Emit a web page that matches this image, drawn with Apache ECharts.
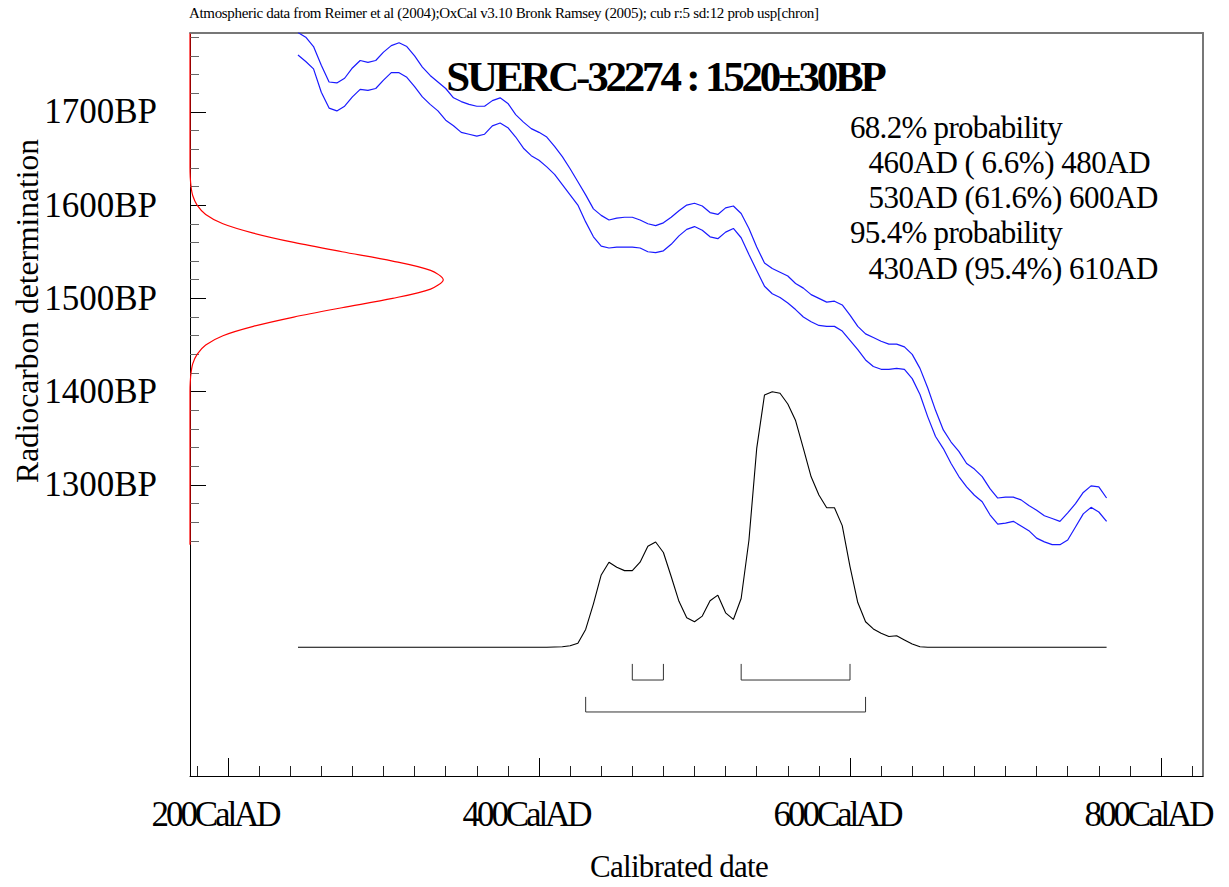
<!DOCTYPE html>
<html><head><meta charset="utf-8">
<script src="https://cdn.jsdelivr.net/npm/echarts@6/dist/echarts.min.js"></script>
<style>
html,body{margin:0;padding:0;background:#fff}
#c{width:1229px;height:887px}
#c text{white-space:pre}
</style></head><body><div id="c"></div>
<script>
// ---- data ----
const curveYears = [245,250,255,260,265,270,275,280,285,290,295,300,305,310,315,320,325,330,335,340,345,350,355,360,365,370,375,380,385,390,395,400,405,410,415,420,425,430,435,440,445,450,455,460,465,470,475,480,485,490,495,500,505,510,515,520,525,530,535,540,545,550,555,560,565,570,575,580,585,590,595,600,605,610,615,620,625,630,635,640,645,650,655,660,665,670,675,680,685,690,695,700,705,710,715,720,725,730,735,740,745,750,755,760,765];
const curveUpperBP = [1785,1780,1770,1750,1732,1731,1736,1747,1755,1753,1755,1764,1771,1774,1770,1760,1748,1739,1732,1725,1715,1711,1708,1706,1706,1712,1715,1709,1697,1689,1682,1678,1673,1663,1652,1639,1625,1611,1596,1589,1584,1586,1587,1587,1584,1580,1578,1581,1587,1594,1600,1602,1599,1592,1590,1597,1599,1591,1575,1555,1538,1532,1528,1524,1516,1511,1504,1500,1496,1497,1493,1482,1470,1462,1458,1454,1451,1451,1448,1440,1425,1404,1380,1359,1346,1336,1323,1317,1309,1296,1286,1287,1287,1284,1278,1273,1267,1264,1261,1270,1280,1292,1299,1298,1286];
const curveLowerBP = [1761,1754,1746,1721,1704,1701,1706,1716,1724,1723,1725,1734,1742,1742,1737,1727,1716,1708,1701,1691,1685,1678,1676,1674,1676,1685,1688,1683,1673,1661,1653,1648,1641,1633,1622,1611,1600,1582,1566,1556,1554,1555,1555,1555,1554,1550,1549,1551,1558,1567,1574,1577,1573,1566,1564,1571,1575,1565,1547,1530,1513,1505,1501,1495,1488,1480,1475,1471,1470,1470,1465,1455,1445,1434,1427,1424,1424,1425,1424,1414,1397,1373,1352,1339,1323,1309,1298,1289,1282,1268,1258,1259,1261,1256,1251,1243,1239,1236,1236,1241,1255,1269,1276,1271,1261];

const distYears = [245,400,405,410,415,420,425,430,435,440,445,450,455,460,465,470,475,480,485,490,495,500,505,510,515,520,525,530,535,540,545,550,555,560,565,570,575,580,585,590,595,600,605,610,615,620,625,630,635,640,645,650,765];
const distProb = [0,0,0,0.001,0.002,0.006,0.016,0.07,0.17,0.283,0.333,0.313,0.30,0.30,0.333,0.395,0.412,0.371,0.277,0.18,0.116,0.10,0.122,0.182,0.204,0.135,0.109,0.191,0.419,0.778,0.987,1.0,0.994,0.952,0.887,0.778,0.667,0.596,0.546,0.546,0.476,0.316,0.175,0.10,0.072,0.055,0.042,0.045,0.029,0.013,0.002,0,0];

const measBP = [1784,1640,1630,1620,1610,1600,1590,1580,1570,1560,1550,1540,1530,1520,1510,1500,1490,1480,1470,1460,1450,1440,1430,1420,1410,1400,1236];
const measProb = [0,0,0.001,0.004,0.011,0.028,0.062,0.13,0.25,0.41,0.60,0.80,0.95,1.0,0.95,0.80,0.60,0.41,0.25,0.13,0.062,0.028,0.011,0.004,0.001,0,0];

const range68 = [[460,480],[530,600]];
const range95 = [[430,610]];

const xMajorTicks = [200,400,600,800];
const xMinorTicks = [180,220,240,260,280,300,320,340,360,380,420,440,460,480,500,520,540,560,580,620,640,660,680,700,720,740,760,780,820];
const yMajorTicks = [1300,1400,1500,1600,1700];
const yMinorTicks = [1240,1260,1280,1320,1340,1360,1380,1420,1440,1460,1480,1520,1540,1560,1580,1620,1640,1660,1680,1720,1740,1760,1780];

const titleText = 'SUERC-32274 : 1520±30BP';
const noteText = 'Atmospheric data from Reimer et al (2004);OxCal v3.10 Bronk Ramsey (2005); cub r:5 sd:12 prob usp[chron]';
const probLines = ['68.2% probability','  460AD ( 6.6%) 480AD','  530AD (61.6%) 600AD','95.4% probability','  430AD (95.4%) 610AD'];
const xName = 'Calibrated date';
const yName = 'Radiocarbon determination';

// ---- layout / style ----
const FONT = '"Liberation Serif","Times New Roman",serif';
const X_MIN = 175.56, X_MAX = 827.0, Y_MIN = 988.0, Y_MAX = 1784.5;
const GRID = {left:190, top:33, right:26, bottom:111};
const LEVEL68 = [-0.065,-0.128], LEVEL95 = [-0.194,-0.253];

function bracketSeries(ranges, lv){
  return ranges.map(r => ({
    type:'line', xAxisIndex:0, yAxisIndex:1, symbol:'none', silent:true,
    lineStyle:{color:'#333', width:1},
    data:[[r[0],lv[0]],[r[0],lv[1]],[r[1],lv[1]],[r[1],lv[0]]]
  }));
}

const chart = echarts.init(document.getElementById('c'), null, {renderer:'svg'});
const option = {
  animation:false,
  backgroundColor:'#fff',
  grid:[Object.assign({}, GRID), Object.assign({}, GRID)],
  xAxis:[
    {type:'value', gridIndex:0, position:'bottom', min:X_MIN, max:X_MAX,
     axisLine:{show:true, onZero:false, lineStyle:{color:'#000', width:1}},
     axisTick:{show:true, inside:true, length:18, customValues:xMajorTicks, lineStyle:{color:'#000'}},
     axisLabel:{show:true, customValues:xMajorTicks, margin:21, formatter:v=>v+'CalAD',
       fontFamily:FONT, fontSize:35, color:'#000', padding:[0,26,0,0]},
     splitLine:{show:false}},
    {type:'value', gridIndex:0, position:'top', min:0, max:4,
     axisLine:{show:true, onZero:false, lineStyle:{color:'#777', width:2}},
     axisTick:{show:false}, axisLabel:{show:false}, splitLine:{show:false}},
    {type:'value', gridIndex:1, position:'bottom', min:X_MIN, max:X_MAX,
     axisLine:{show:false}, axisLabel:{show:false}, splitLine:{show:false},
     axisTick:{show:true, inside:true, length:10, customValues:xMinorTicks, lineStyle:{color:'#222'}}}
  ],
  yAxis:[
    {type:'value', gridIndex:0, position:'left', min:Y_MIN, max:Y_MAX,
     axisLine:{show:true, onZero:false, lineStyle:{color:'#000', width:1}},
     axisTick:{show:true, inside:true, length:16, customValues:yMajorTicks, lineStyle:{color:'#000'}},
     axisLabel:{show:true, customValues:yMajorTicks, margin:33, formatter:v=>v+'BP',
       fontFamily:FONT, fontSize:35, color:'#000'},
     splitLine:{show:false}},
    {type:'value', gridIndex:0, position:'right', min:-0.5035, max:2.4034,
     axisLine:{show:true, onZero:false, lineStyle:{color:'#777', width:2}},
     axisTick:{show:false}, axisLabel:{show:false}, splitLine:{show:false}},
    {type:'value', gridIndex:1, position:'left', min:Y_MIN, max:Y_MAX,
     axisLine:{show:false}, axisLabel:{show:false}, splitLine:{show:false},
     axisTick:{show:true, inside:true, length:9, customValues:yMinorTicks, lineStyle:{color:'#666'}}}
  ],
  series:[
    {type:'line', name:'upper', xAxisIndex:0, yAxisIndex:0, symbol:'none',
     lineStyle:{color:'#1a1aff', width:1.2}, data:curveYears.map((y,i)=>[y,curveUpperBP[i]])},
    {type:'line', name:'lower', xAxisIndex:0, yAxisIndex:0, symbol:'none',
     lineStyle:{color:'#1a1aff', width:1.2}, data:curveYears.map((y,i)=>[y,curveLowerBP[i]])},
    {type:'line', name:'calibrated', xAxisIndex:0, yAxisIndex:1, symbol:'none',
     lineStyle:{color:'#000', width:1.1}, data:distYears.map((y,i)=>[y,distProb[i]])},
    {type:'line', name:'measured', xAxisIndex:1, yAxisIndex:0, symbol:'none', smooth:0.3,
     lineStyle:{color:'#ff0000', width:1.2}, data:measBP.map((b,i)=>[measProb[i],b])}
  ].concat(bracketSeries(range68, LEVEL68), bracketSeries(range95, LEVEL95)),
  graphic:[
    {type:'text', x:189, y:13, style:{text:noteText, font:'15px '+FONT, fill:'#000', textAlign:'left', textVerticalAlign:'middle'}},
    {type:'text', x:665, y:76, style:{text:titleText, font:'bold 43px '+FONT, fill:'#000', textAlign:'center', textVerticalAlign:'middle'}},
    ...probLines.map((t,i)=>({type:'text', x:(t.charAt(0)===' ' ? 854 : 850), y:127+i*35.3, style:{text:t, font:'31px '+FONT, fill:'#000', textAlign:'left', textVerticalAlign:'middle'}})),
    {type:'text', x:679, y:866, style:{text:xName, font:'31px '+FONT, fill:'#000', textAlign:'center', textVerticalAlign:'middle'}},
    {type:'text', x:27, y:311, rotation:Math.PI/2, style:{text:yName, font:'31.5px '+FONT, fill:'#000', textAlign:'center', textVerticalAlign:'middle'}}
  ]
};
chart.setOption(option);

// per-text letter spacing to mimic the narrow OxCal typesetting
function spacingFor(t){
  if (t === titleText) return '-3.2px';
  if (t === noteText) return '-0.33px';
  if (t === xName) return '-0.7px';
  if (t === yName) return '0px';
  if (probLines.indexOf(t) >= 0) return (t.charAt(0)===' ' ? '-0.5px' : '-0.7px');
  if (/CalAD$/.test(t)) return '-3.1px';
  if (/^\d+BP$/.test(t)) return '0px';
  return '0px';
}
function applySpacing(){
  document.querySelectorAll('#c svg text').forEach(el => {
    el.style.letterSpacing = spacingFor(el.textContent);
  });
}
applySpacing();
chart.on('finished', applySpacing);
</script></body></html>
